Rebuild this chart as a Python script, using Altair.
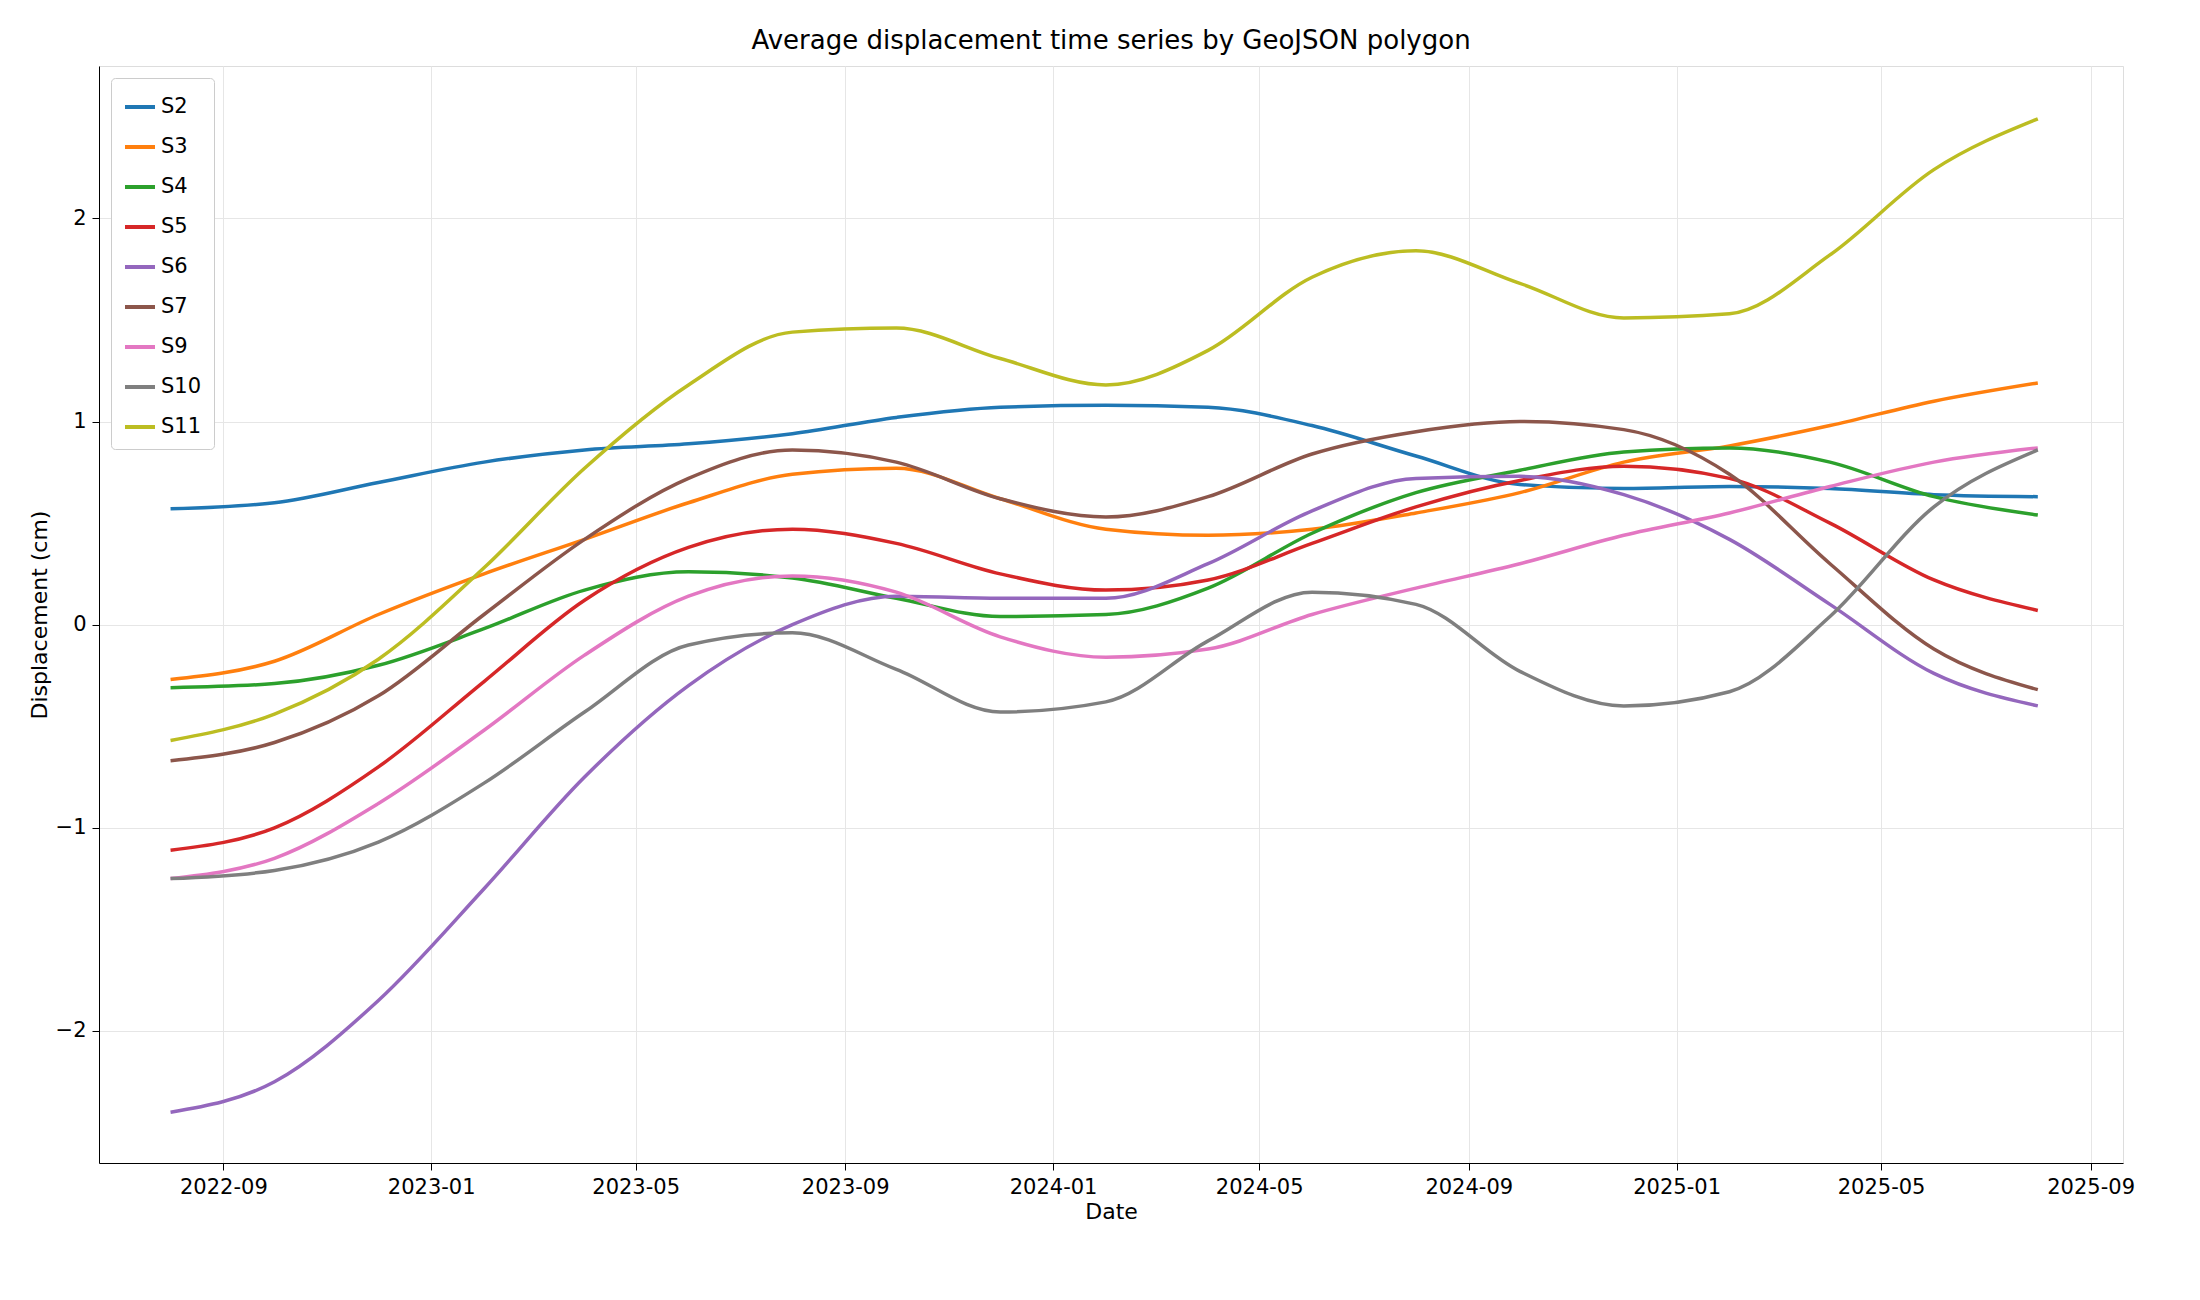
import pandas as pd
import altair as alt

dates = ["2022-08-01", "2022-10-01", "2022-12-01", "2023-02-01", "2023-04-01", "2023-06-01",
         "2023-08-01", "2023-10-01", "2023-12-01", "2024-02-01", "2024-04-01", "2024-06-01",
         "2024-08-01", "2024-10-01", "2024-12-01", "2025-02-01", "2025-04-01", "2025-06-01",
         "2025-08-01"]

s2 = [0.57, 0.60, 0.70, 0.80, 0.86, 0.89, 0.94, 1.02, 1.07, 1.08, 1.07, 0.98, 0.83, 0.69, 0.67, 0.68, 0.67, 0.64, 0.63]
s3 = [-0.27, -0.18, 0.05, 0.25, 0.42, 0.60, 0.74, 0.77, 0.62, 0.47, 0.44, 0.47, 0.55, 0.65, 0.80, 0.88, 0.98, 1.10, 1.19]
s4 = [-0.31, -0.29, -0.20, -0.02, 0.17, 0.26, 0.23, 0.13, 0.04, 0.05, 0.18, 0.45, 0.65, 0.76, 0.85, 0.87, 0.80, 0.63, 0.54]
s5 = [-1.11, -1.00, -0.70, -0.28, 0.12, 0.38, 0.47, 0.40, 0.25, 0.17, 0.22, 0.40, 0.58, 0.71, 0.78, 0.72, 0.50, 0.22, 0.07]
s6 = [-2.40, -2.25, -1.85, -1.30, -0.75, -0.30, 0.00, 0.14, 0.13, 0.13, 0.30, 0.56, 0.72, 0.73, 0.64, 0.42, 0.10, -0.24, -0.40]
s7 = [-0.67, -0.58, -0.35, 0.05, 0.42, 0.72, 0.86, 0.80, 0.62, 0.53, 0.63, 0.84, 0.95, 1.00, 0.96, 0.74, 0.30, -0.12, -0.32]
s9 = [-1.25, -1.15, -0.88, -0.52, -0.15, 0.14, 0.24, 0.16, -0.06, -0.16, -0.12, 0.05, 0.18, 0.30, 0.44, 0.55, 0.68, 0.80, 0.87]
s10 = [-1.25, -1.21, -1.07, -0.78, -0.43, -0.10, -0.04, -0.22, -0.43, -0.38, -0.08, 0.16, 0.10, -0.23, -0.40, -0.33, 0.04, 0.58, 0.86]
s11 = [-0.57, -0.44, -0.17, 0.28, 0.77, 1.18, 1.44, 1.46, 1.31, 1.18, 1.35, 1.71, 1.84, 1.68, 1.51, 1.53, 1.82, 2.24, 2.49]

series = {"S2": s2, "S3": s3, "S4": s4, "S5": s5, "S6": s6, "S7": s7, "S9": s9, "S10": s10, "S11": s11}
colors = ["#1f77b4", "#ff7f0e", "#2ca02c", "#d62728", "#9467bd", "#8c564b", "#e377c2", "#7f7f7f", "#bcbd22"]
tick_dates = ["2022-09-01", "2023-01-01", "2023-05-01", "2023-09-01", "2024-01-01",
              "2024-05-01", "2024-09-01", "2025-01-01", "2025-05-01", "2025-09-01"]

rows = []
for name, vals in series.items():
    for d, v in zip(dates, vals):
        rows.append({"date": d, "value": v, "polygon": name})
df = pd.DataFrame(rows)

names = list(series.keys())

axis_style = dict(gridColor="#e6e6e6", labelFontSize=21, titleFontSize=22, labelColor="black",
                  titleColor="black", titleFontWeight="normal", domainColor="black",
                  tickColor="black", tickSize=7, labelPadding=6)

chart = alt.Chart(df).mark_line(strokeWidth=3.5, interpolate="monotone").encode(
    x=alt.X("date:T", title="Date",
            scale=alt.Scale(domain=["2022-06-20", "2025-09-20"]),
            axis=alt.Axis(values=[alt.DateTime(year=int(t[:4]), month=int(t[5:7]), date=1) for t in tick_dates],
                          format="%Y-%m", **axis_style)),
    y=alt.Y("value:Q", title="Displacement (cm)",
            scale=alt.Scale(domain=[-2.65, 2.75], nice=False),
            axis=alt.Axis(values=[-2, -1, 0, 1, 2], **axis_style)),
    color=alt.Color("polygon:N", title=None,
                    scale=alt.Scale(domain=names, range=colors),
                    sort=names,
                    legend=alt.Legend(orient="top-left", symbolType="stroke", symbolStrokeWidth=4,
                                      symbolSize=900, labelFontSize=21, strokeColor="#cccccc",
                                      fillColor="white", padding=12, cornerRadius=4,
                                      rowPadding=13, offset=12)),
).properties(
    title=alt.TitleParams("Average displacement time series by GeoJSON polygon",
                          fontSize=26, fontWeight="normal", color="black", offset=12),
    width=2184, height=1284,
    padding={"left": 20, "top": 20, "right": 60, "bottom": 70},
    autosize=alt.AutoSizeParams(type="fit", contains="padding"),
).configure_view(stroke="black", strokeWidth=1.5).configure(font="DejaVu Sans")

chart.save("out.html", embed_options={"renderer": "svg", "actions": False})
